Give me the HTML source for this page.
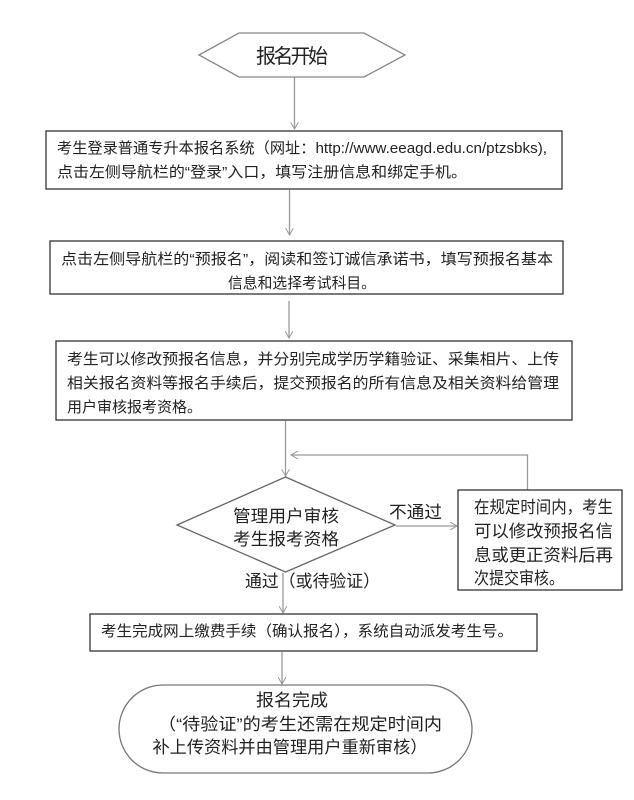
<!DOCTYPE html>
<html><head><meta charset="utf-8"><style>
html,body{margin:0;padding:0;background:#fff;}
svg{display:block;}
text{font-family:"Liberation Sans","Noto Sans CJK SC",sans-serif;fill:#222;}
</style></head><body>
<svg width="634" height="800" viewBox="0 0 634 800" xmlns="http://www.w3.org/2000/svg">
<defs><marker id="a" markerWidth="8" markerHeight="8" refX="7" refY="4" orient="auto" markerUnits="userSpaceOnUse"><path d="M0,0 L7,4 L0,8" fill="none" stroke="#999" stroke-width="1"/></marker></defs>
<g stroke="#999" stroke-width="1.3" fill="none">
<line x1="294.5" y1="77" x2="294.5" y2="129" marker-end="url(#a)"/>
<line x1="289.5" y1="190" x2="289.5" y2="235" marker-end="url(#a)"/>
<line x1="289" y1="301" x2="289" y2="338" marker-end="url(#a)"/>
<line x1="285.5" y1="421" x2="285.5" y2="476" marker-end="url(#a)"/>
<polyline points="527.5,490 527.5,455 291,455" marker-end="url(#a)"/>
<line x1="396" y1="526" x2="457" y2="526" marker-end="url(#a)"/>
<line x1="283" y1="573" x2="283" y2="613" marker-end="url(#a)"/>
<line x1="282" y1="652" x2="282" y2="684" marker-end="url(#a)"/>
</g>
<g stroke="#555" stroke-width="1.3" fill="#fff">
<polygon points="199,55 239,33 364,33 405,55 364,77 239,77" stroke="#888"/>
<rect x="46" y="131" width="516" height="58" stroke="#333"/>
<rect x="50" y="241" width="513" height="53" stroke="#333"/>
<rect x="56" y="341" width="516" height="79" stroke="#333"/>
<polygon points="177,525 285.5,477 395,525 285.5,572" stroke="#666"/>
<rect x="458" y="490" width="164" height="100" stroke="#333"/>
<rect x="90" y="614" width="447" height="37" stroke="#333"/>
<rect x="119" y="685" width="353" height="88" rx="44" ry="44" stroke="#777"/>
</g>
<text x="292" y="63" font-size="20" text-anchor="middle" textLength="72">报名开始</text>
<g font-size="15">
<text x="57" y="153" textLength="490" lengthAdjust="spacingAndGlyphs">考生登录普通专升本报名系统（网址：http://www.eeagd.edu.cn/ptzsbks),</text>
<text x="57" y="177" textLength="410" lengthAdjust="spacingAndGlyphs">点击左侧导航栏的“登录”入口，填写注册信息和绑定手机。</text>
<text x="61" y="264" textLength="492" lengthAdjust="spacingAndGlyphs">点击左侧导航栏的“预报名”，阅读和签订诚信承诺书，填写预报名基本</text>
<text x="228" y="288" textLength="148" lengthAdjust="spacingAndGlyphs">信息和选择考试科目。</text>
<text x="67" y="364" textLength="492" lengthAdjust="spacingAndGlyphs">考生可以修改预报名信息，并分别完成学历学籍验证、采集相片、上传</text>
<text x="67" y="388" textLength="492" lengthAdjust="spacingAndGlyphs">相关报名资料等报名手续后，提交预报名的所有信息及相关资料给管理</text>
<text x="67" y="412" textLength="135" lengthAdjust="spacingAndGlyphs">用户审核报考资格。</text>
<text x="101" y="636" textLength="412" lengthAdjust="spacingAndGlyphs">考生完成网上缴费手续（确认报名），系统自动派发考生号。</text>
</g>
<g font-size="17">
<text x="286" y="522" text-anchor="middle" textLength="106" lengthAdjust="spacingAndGlyphs">管理用户审核</text>
<text x="286" y="545" text-anchor="middle" textLength="106" lengthAdjust="spacingAndGlyphs">考生报考资格</text>
<text x="389" y="518" textLength="53" lengthAdjust="spacingAndGlyphs">不通过</text>
<text x="245" y="587" textLength="135" lengthAdjust="spacingAndGlyphs">通过（或待验证）</text>
<text x="474" y="513" textLength="139" lengthAdjust="spacingAndGlyphs">在规定时间内，考生</text>
<text x="474" y="537" textLength="139" lengthAdjust="spacingAndGlyphs">可以修改预报名信</text>
<text x="474" y="561" textLength="139" lengthAdjust="spacingAndGlyphs">息或更正资料后再</text>
<text x="474" y="584" textLength="90" lengthAdjust="spacingAndGlyphs">次提交审核。</text>
<text x="292" y="706" text-anchor="middle" textLength="72" lengthAdjust="spacingAndGlyphs">报名完成</text>
<text x="300" y="730" text-anchor="middle" textLength="284" lengthAdjust="spacingAndGlyphs">（“待验证”的考生还需在规定时间内</text>
<text x="290" y="753" text-anchor="middle" textLength="275" lengthAdjust="spacingAndGlyphs">补上传资料并由管理用户重新审核）</text>
</g>
</svg>
</body></html>
